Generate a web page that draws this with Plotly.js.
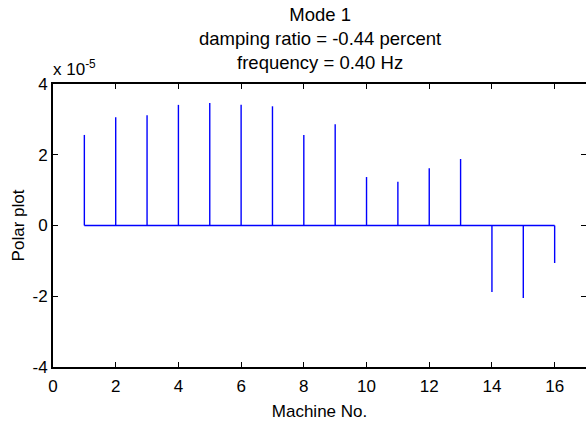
<!DOCTYPE html>
<html>
<head>
<meta charset="utf-8">
<script src="https://cdn.plot.ly/plotly-3.0.1.min.js"></script>
<style>html,body{margin:0;padding:0;background:#fff;}#chart{width:586px;height:430px;}</style>
</head>
<body>
<div id="chart"></div>
<script>
// Machine numbers and mode-shape values (in units of 1e-5)
const machines = [1, 2, 3, 4, 5, 6, 7, 8, 9, 10, 11, 12, 13, 14, 15, 16];
const polarValues = [2.56, 3.06, 3.12, 3.41, 3.46, 3.41, 3.37, 2.56, 2.86, 1.37, 1.24, 1.62, 1.88, -1.88, -2.05, -1.06];
const xTickVals = [0, 2, 4, 6, 8, 10, 12, 14, 16];
const xTickText = ['0', '2', '4', '6', '8', '10', '12', '14', '16'];
const yTickVals = [-4, -2, 0, 2, 4];
const yTickText = ['-4', '-2', '0', '2', '4'];
const titleLines = ['Mode 1', 'damping ratio = -0.44 percent', 'frequency = 0.40 Hz'];

// stems built from data: each stem from 0 to value
const sx = [], sy = [];
machines.forEach((m, i) => { sx.push(m, m, null); sy.push(0, polarValues[i], null); });

const stemColor = '#0000ff';
const FONT = 'Liberation Sans, Arial, sans-serif';

const traces = [
  { x: sx, y: sy, type: 'scatter', mode: 'lines', line: {color: stemColor, width: 1.4}, hoverinfo: 'skip', showlegend: false },
  { x: [machines[0], machines[machines.length - 1]], y: [0, 0], type: 'scatter', mode: 'lines', line: {color: stemColor, width: 1.4}, hoverinfo: 'skip', showlegend: false }
];

const axisCommon = {
  showline: true, linecolor: '#000', linewidth: 2, mirror: 'ticks',
  ticks: 'inside', ticklen: 5, tickwidth: 1, tickcolor: '#000',
  showgrid: false, zeroline: false,
  tickfont: {family: FONT, size: 17, color: '#000'}
};

const layout = {
  width: 586, height: 430,
  margin: {l: 53, r: 0, t: 84, b: 63},
  paper_bgcolor: '#fff', plot_bgcolor: '#fff',
  font: {family: FONT, color: '#000', size: 17},
  xaxis: Object.assign({}, axisCommon, {
    range: [0, 17], tickvals: xTickVals, ticktext: xTickText, ticklabelstandoff: 3,
    title: {text: 'Machine No.', font: {family: FONT, size: 17, color: '#000'}, standoff: 10}
  }),
  yaxis: Object.assign({}, axisCommon, {
    range: [-4, 4], tickvals: yTickVals, ticktext: yTickText,
    title: {text: 'Polar plot', font: {family: FONT, size: 17, color: '#000'}, standoff: 4}
  }),
  annotations: [
    {
      text: titleLines.join('<br>'), xref: 'paper', yref: 'paper', x: 0.5, y: 1,
      xanchor: 'center', yanchor: 'bottom', yshift: 9, showarrow: false,
      font: {family: FONT, size: 18.5, color: '#000'}
    },
    {
      text: 'x 10<sup>-5</sup>', xref: 'paper', yref: 'paper', x: 0, y: 1, xanchor: 'left', yanchor: 'bottom',
      xshift: -2, yshift: 3, showarrow: false, font: {family: FONT, size: 17, color: '#000'}
    }
  ]
};

Plotly.newPlot('chart', traces, layout, {displayModeBar: false, staticPlot: true});
</script>
</body>
</html>
